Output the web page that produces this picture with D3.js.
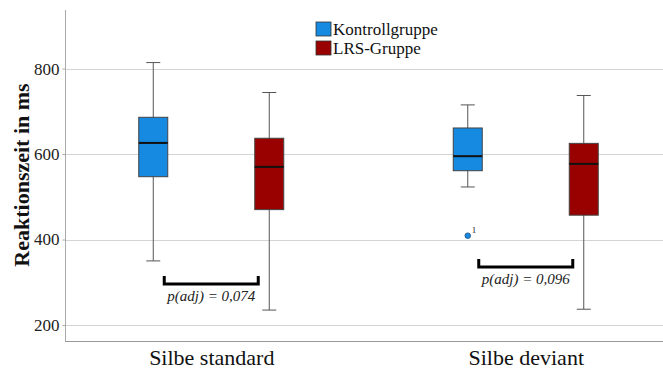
<!DOCTYPE html>
<html>
<head>
<meta charset="utf-8">
<script src="https://cdn.jsdelivr.net/npm/d3@7/dist/d3.min.js"></script>
<style>
  html, body { margin: 0; padding: 0; background: #fff; }
  svg { display: block; }
</style>
</head>
<body>
<svg id="chart" width="663" height="369"></svg>
<script>
// ---- Data ----
const categories = ["Silbe standard", "Silbe deviant"];
const groups = ["Kontrollgruppe", "LRS-Gruppe"];
// [min, q1, median, q3, max] per category
const kontrollStats = [[350, 547, 626, 686, 814], [523, 561, 595, 661, 715]];
const lrsStats = [[235, 470, 570, 637, 744], [237, 457, 577, 625, 737]];
const outlierValues = [409];
const outlierCategories = ["Silbe deviant"];
const outlierGroups = ["Kontrollgruppe"];
const outlierLabels = ["1"];
const yTicks = [200, 400, 600, 800];
const bracketLevels = [296, 336];
const bracketLabels = ["p(adj) = 0,074", "p(adj) = 0,096"];
const groupColors = ["#1689e0", "#990000"];

// ---- Layout ----
const svg = d3.select("#chart");
const mLeft = 65, mRight = 663, mTop = 10, mBottom = 341;

const y = d3.scaleLinear().domain([165, 937]).range([mBottom - 1, mTop]);
const x = d3.scalePoint().domain(categories).range([54, 683]).padding(0.5);
const xg = d3.scaleBand().domain(groups).range([-72.5, 72.5]).paddingInner(0.75).paddingOuter(0);
const color = d3.scaleOrdinal().domain(groups).range(groupColors);

const serif = "'Liberation Serif', 'Times New Roman', serif";

// gridlines
svg.append("g").selectAll("line").data(yTicks).join("line")
  .attr("x1", mLeft).attr("x2", mRight)
  .attr("y1", d => Math.round(y(d)) + 0.5).attr("y2", d => Math.round(y(d)) + 0.5)
  .attr("stroke", "#d4d4d4").attr("stroke-width", 1);

// y axis
const yAxis = d3.axisLeft(y).tickValues(yTicks).tickSize(3).tickPadding(3);
const gy = svg.append("g").attr("transform", `translate(${mLeft + 0.5},0)`).call(yAxis);
gy.select(".domain").attr("d", `M0,${mTop}V${mBottom}`).attr("stroke", "#aaaaaa");
gy.selectAll(".tick line").attr("stroke", "#aaaaaa");
gy.selectAll(".tick text").attr("font-family", serif).attr("font-size", 17).attr("fill", "#222");

// x axis baseline
svg.append("line").attr("x1", mLeft).attr("x2", mRight)
  .attr("y1", mBottom + 0.5).attr("y2", mBottom + 0.5).attr("stroke", "#999").attr("stroke-width", 1);

// category labels
const xAxis = d3.axisBottom(x).tickSize(0).tickPadding(0);
const gx = svg.append("g").attr("transform", `translate(0,${mBottom})`).call(xAxis);
gx.select(".domain").remove();
gx.selectAll(".tick text").attr("font-family", serif).attr("font-size", 22).attr("fill", "#111")
  .attr("dy", null).attr("y", 24);

// y label
svg.append("text")
  .attr("transform", `translate(29,175) rotate(-90)`)
  .attr("text-anchor", "middle")
  .attr("font-family", serif).attr("font-size", 22).attr("font-weight", "bold").attr("fill", "#111")
  .text("Reaktionszeit in ms");

// boxes
const boxData = [];
categories.forEach((c, i) => {
  boxData.push({ cat: c, group: groups[0], s: kontrollStats[i] });
  boxData.push({ cat: c, group: groups[1], s: lrsStats[i] });
});
const bw = xg.bandwidth();
const capW = 14;
const boxes = svg.append("g").selectAll("g").data(boxData).join("g")
  .attr("transform", d => `translate(${x(d.cat) + xg(d.group)},0)`);

boxes.append("line").attr("x1", bw / 2).attr("x2", bw / 2)
  .attr("y1", d => y(d.s[0])).attr("y2", d => y(d.s[4]))
  .attr("stroke", "#555").attr("stroke-width", 1);
boxes.append("line").attr("x1", bw / 2 - capW / 2).attr("x2", bw / 2 + capW / 2)
  .attr("y1", d => y(d.s[0])).attr("y2", d => y(d.s[0]))
  .attr("stroke", "#555").attr("stroke-width", 1);
boxes.append("line").attr("x1", bw / 2 - capW / 2).attr("x2", bw / 2 + capW / 2)
  .attr("y1", d => y(d.s[4])).attr("y2", d => y(d.s[4]))
  .attr("stroke", "#555").attr("stroke-width", 1);
boxes.append("rect").attr("x", 0).attr("width", bw)
  .attr("y", d => y(d.s[3])).attr("height", d => y(d.s[1]) - y(d.s[3]))
  .attr("fill", d => color(d.group)).attr("stroke", "#444").attr("stroke-width", 1);
boxes.append("line").attr("x1", 0).attr("x2", bw)
  .attr("y1", d => y(d.s[2])).attr("y2", d => y(d.s[2]))
  .attr("stroke", "#111").attr("stroke-width", 2);

// outliers
const outData = outlierValues.map((v, i) => ({ v, cat: outlierCategories[i], group: outlierGroups[i], label: outlierLabels[i] }));
const og = svg.append("g").selectAll("g").data(outData).join("g")
  .attr("transform", d => `translate(${x(d.cat) + xg(d.group) + bw / 2},${y(d.v)})`);
og.append("circle").attr("r", 2.8).attr("fill", d => color(d.group)).attr("stroke", "#1f4f7a").attr("stroke-width", 0.8);
og.append("text").attr("x", 4).attr("y", -3).attr("font-family", serif).attr("font-size", 9).attr("fill", "#222").text(d => d.label);

// significance brackets
const br = svg.append("g").selectAll("g").data(categories.map((c, i) => ({ cat: c, level: bracketLevels[i], label: bracketLabels[i] })))
  .join("g").attr("transform", d => `translate(${x(d.cat)},0)`);
br.append("path")
  .attr("d", d => `M-47,${y(d.level) - 8}V${y(d.level)}H47V${y(d.level) - 8}`)
  .attr("fill", "none").attr("stroke", "#000").attr("stroke-width", 3);
br.append("text").attr("text-anchor", "middle")
  .attr("y", d => y(d.level) + 17)
  .attr("font-family", serif).attr("font-style", "italic").attr("font-size", 15).attr("fill", "#222")
  .text(d => d.label);

// legend
const lg = svg.append("g").selectAll("g").data(groups).join("g")
  .attr("transform", (d, i) => `translate(316,${22 + i * 19})`);
lg.append("rect").attr("width", 15).attr("height", 14)
  .attr("fill", d => color(d)).attr("stroke", "#333").attr("stroke-width", 0.8);
lg.append("text").attr("x", 17).attr("y", 13)
  .attr("font-family", serif).attr("font-size", 17).attr("fill", "#111").text(d => d);
</script>
</body>
</html>
